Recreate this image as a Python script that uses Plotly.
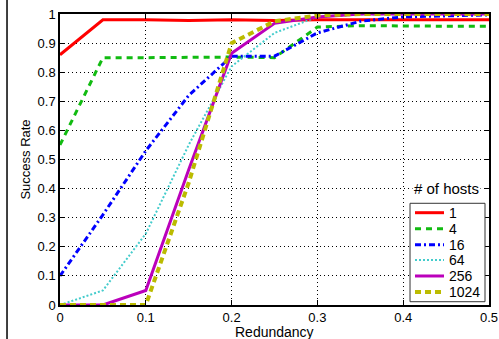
import plotly.graph_objects as go

redundancy = [0, 0.05, 0.1, 0.15, 0.2, 0.25, 0.3, 0.35, 0.4, 0.45, 0.5]
hosts_1 = [0.86, 0.98, 0.98, 0.978, 0.98, 0.978, 0.98, 0.98, 0.98, 0.98, 0.98]
hosts_4 = [0.55, 0.85, 0.85, 0.852, 0.852, 0.85, 0.955, 0.96, 0.958, 0.958, 0.958]
hosts_16 = [0.1, 0.31, 0.53, 0.72, 0.855, 0.855, 0.935, 0.975, 0.99, 0.993, 0.997]
hosts_64 = [0.0, 0.05, 0.245, 0.55, 0.82, 0.935, 0.99, 0.998, 1.0, 1.0, 1.0]
hosts_256 = [0.0, 0.0, 0.05, 0.465, 0.865, 0.968, 0.99, 1.0, 1.0, 1.0, 1.0]
hosts_1024 = [0.0, 0.0, 0.0, 0.42, 0.9, 0.975, 0.995, 1.0, 1.0, 1.0, 1.0]
series_names = ["1", "4", "16", "64", "256", "1024"]
x_ticks = [0, 0.1, 0.2, 0.3, 0.4, 0.5]
y_ticks = [0, 0.1, 0.2, 0.3, 0.4, 0.5, 0.6, 0.7, 0.8, 0.9, 1]

series = [hosts_1, hosts_4, hosts_16, hosts_64, hosts_256, hosts_1024]
styles = [
    dict(color="#ff0000", width=3, dash="solid"),
    dict(color="#11bb11", width=3, dash="6px,5px"),
    dict(color="#0000ff", width=3, dash="6px,3px,2px,3px"),
    dict(color="#44cccc", width=2, dash="2px,2px"),
    dict(color="#bb00bb", width=3, dash="solid"),
    dict(color="#bbbb00", width=4, dash="6px,4px"),
]

fig = go.Figure()
for name, ys, st in zip(series_names, series, styles):
    fig.add_trace(go.Scatter(x=redundancy, y=ys, mode="lines", name=name, line=st,
                             showlegend=False))

fam = "Liberation Sans, Arial, sans-serif"
tick_font = dict(family=fam, size=13, color="black")
legend_font = dict(family=fam, size=14, color="black")
axis_common = dict(
    showline=True, linecolor="black", linewidth=1.5, mirror="ticks",
    ticks="inside", ticklen=5, tickcolor="black",
    showgrid=True, gridcolor="black", gridwidth=1, griddash="1px,3px",
    zeroline=False, tickfont=tick_font, automargin=False, ticklabeloverflow="allow",
)
fig.update_xaxes(range=[0, 0.5], tickvals=x_ticks, ticktext=[f"{v:g}" for v in x_ticks],
                 **axis_common)
fig.update_yaxes(range=[0, 1], tickvals=y_ticks, ticktext=[f"{v:g}" for v in y_ticks],
                 title=dict(text="Success Rate", font=dict(family=fam, size=13, color="black"),
                            standoff=4), **axis_common)

# Manual legend (box, sample lines, labels) in paper coordinates
leg_box = dict(x0=0.8159, x1=0.9907, y0=0.0113, y1=0.3495)
leg_rows_y = [0.3172, 0.2622, 0.2072, 0.1546, 0.0997, 0.0447]
leg_line_x = (0.8275, 0.8951)
leg_text_x = 0.9021

shapes = [dict(type="line", xref="paper", yref="paper", x0=-0.1235, x1=-0.1235,
               y0=-0.2, y1=1.1, line=dict(color="black", width=1.5)),
          dict(type="rect", xref="paper", yref="paper", layer="above",
               fillcolor="white", line=dict(color="#333333", width=1), **leg_box)]
annotations = [
    dict(text="Redundancy", xref="paper", yref="paper", x=0.5, y=-0.092,
         xanchor="center", yanchor="middle", showarrow=False,
         font=dict(family=fam, size=14, color="black")),
    dict(text="# of hosts", xref="paper", yref="paper", x=0.902, y=0.402,
         xanchor="center", yanchor="middle", showarrow=False,
         bgcolor="white", font=dict(family=fam, size=15, color="black")),
]
for name, st, yy in zip(series_names, styles, leg_rows_y):
    shapes.append(dict(type="line", xref="paper", yref="paper", layer="above",
                       x0=leg_line_x[0], x1=leg_line_x[1], y0=yy, y1=yy, line=st))
    annotations.append(dict(text=name, xref="paper", yref="paper", x=leg_text_x, y=yy,
                            xanchor="left", yanchor="middle", showarrow=False,
                            font=legend_font))

fig.update_layout(
    width=499, height=339,
    margin=dict(l=60, r=10, t=14, b=34),
    paper_bgcolor="white", plot_bgcolor="white",
    font=tick_font, showlegend=False,
    shapes=shapes, annotations=annotations,
)

fig.write_html(
    "out.html",
    config={"displayModeBar": False},
    post_script="document.body.style.margin='0';document.body.style.overflow='hidden';",
)
